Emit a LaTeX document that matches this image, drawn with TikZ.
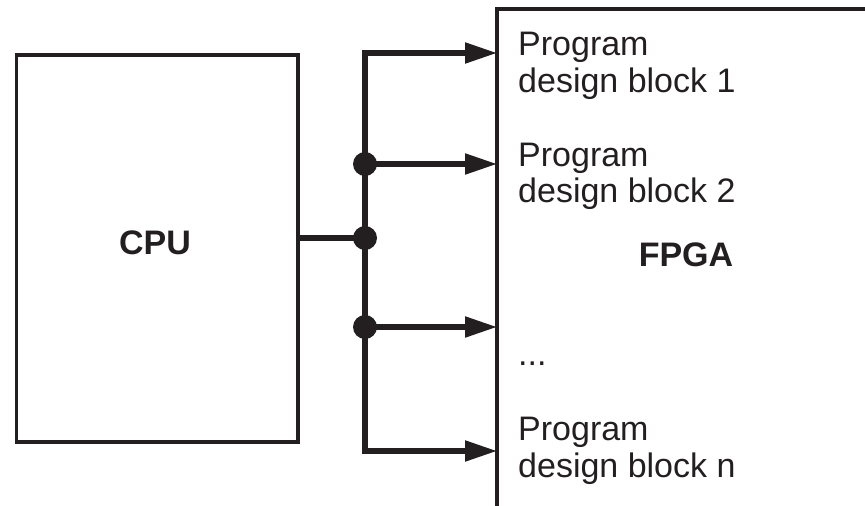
\documentclass[tikz,border=0pt]{standalone}
\usepackage{fontspec}
\setmainfont{Liberation Sans}
\usetikzlibrary{arrows.meta}
\definecolor{ink}{RGB}{35,31,32}
\begin{document}
\begin{tikzpicture}[x=1pt,y=-1pt,
  boxline/.style={draw=ink,line width=3.8pt},
  bus/.style={draw=ink,line width=5.2pt},
  arr/.style={bus,-{Triangle[length=32pt,width=20pt]}},
  dotnode/.style={circle,fill=ink,inner sep=0pt,minimum size=24pt},
  txt/.style={anchor=base west,inner sep=0pt,text=ink,font=\fontsize{34}{37}\selectfont},
  lbl/.style={inner sep=0pt,text=ink,font=\fontsize{34}{37}\selectfont\bfseries}]
\useasboundingbox (0,0) rectangle (865,506);
\clip (0,0) rectangle (865,506);
% CPU box
\node[boxline,rectangle,minimum width=281.5pt,minimum height=386.7pt,inner sep=0pt,anchor=north west] (cpu) at (14.5,53.3) {};
\node[lbl] (cputxt) at (155,242.5) {CPU};
% FPGA box (open to right and bottom)
\coordinate (fbl) at (497,520);
\coordinate (ftl) at (497,9);
\coordinate (ftr) at (890,9);
\draw[boxline,line join=miter] (fbl) -- (ftl) -- (ftr);
\node[lbl] (fpga) at (686,255) {FPGA};
% bus coordinates
\coordinate (p1) at (497,53);
\coordinate (p2) at (497,164);
\coordinate (p3) at (497,327);
\coordinate (pn) at (497,451);
\coordinate (b1) at (365,53);
\coordinate (bn) at (365,451);
\node[dotnode] (d2) at (365,164) {};
\node[dotnode] (dc) at (365,238) {};
\node[dotnode] (d3) at (365,327) {};
% connectors
\draw[bus] (cpu.east |- dc) -- (dc.center);
\draw[arr,line join=miter] (bn) -- (b1) -- (p1);
\draw[arr] (d2.center) -- (p2);
\draw[arr] (d3.center) -- (p3);
\draw[arr,line join=miter] (dc.center) -- (bn) -- (pn);
% texts
\node[txt] (t1a) at (518,55) {Program};
\node[txt] (t1b) at (518,92) {design block 1};
\node[txt] (t2a) at (518,166) {Program};
\node[txt] (t2b) at (518,202) {design block 2};
\node[txt] (dots) at (518,365) {...};
\node[txt] (tna) at (518,440) {Program};
\node[txt] (tnb) at (518,477) {design block n};
\end{tikzpicture}
\end{document}
